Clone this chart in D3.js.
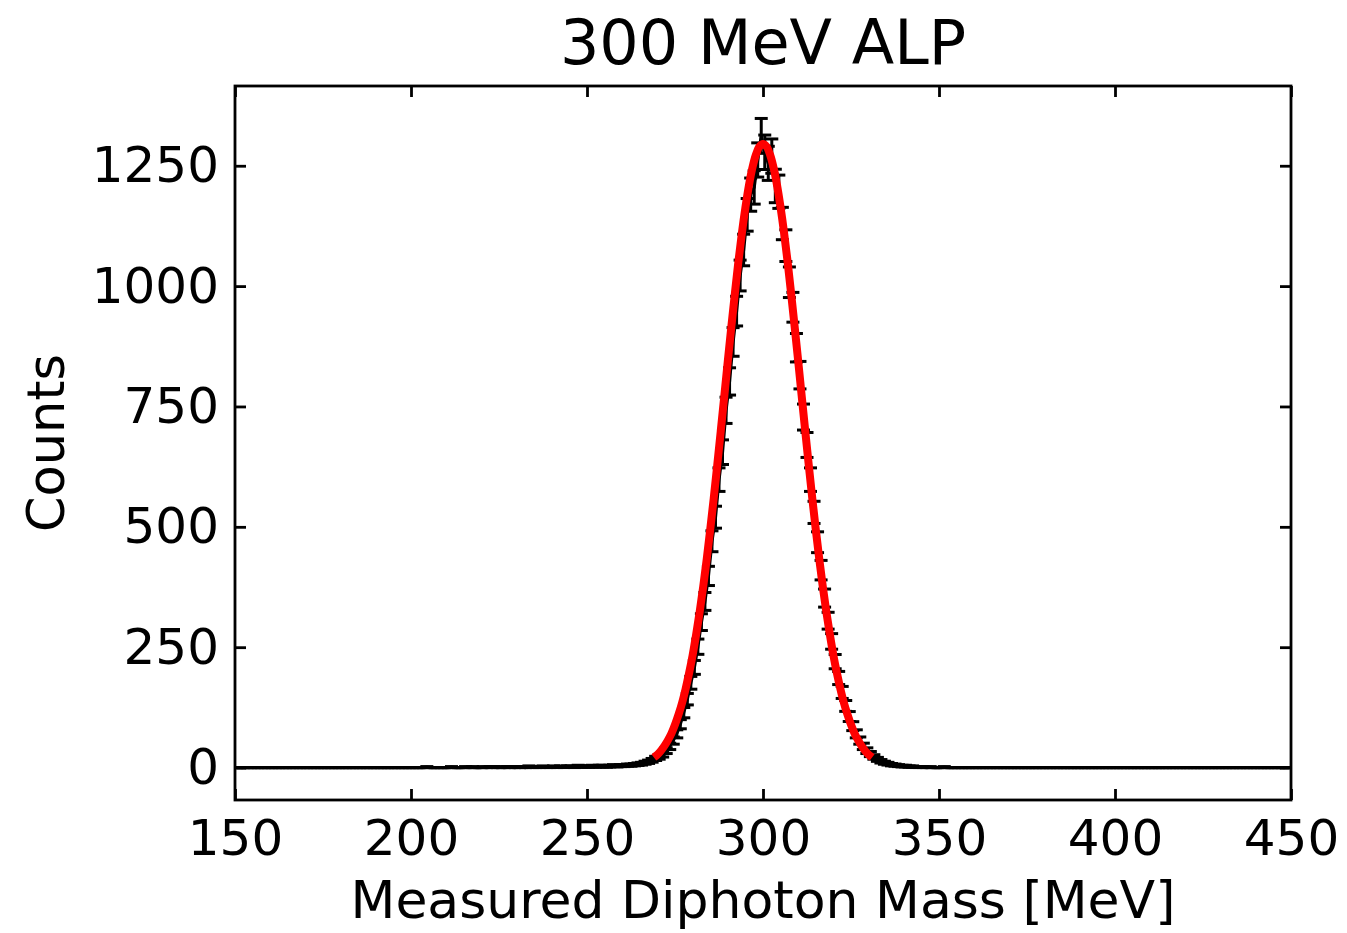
<!DOCTYPE html>
<html>
<head>
<meta charset="utf-8">
<script src="https://cdn.jsdelivr.net/npm/d3@7"></script>
<style>
  body { margin: 0; background: #fff; }
  text { font-family: 'DejaVu Sans', sans-serif; fill: #000; }
</style>
</head>
<body>
<svg id="chart" width="1347" height="933"></svg>
<script>
const title = '300 MeV ALP';
const xLabel = 'Measured Diphoton Mass [MeV]';
const yLabel = 'Counts';

const xTicks = [150, 200, 250, 300, 350, 400, 450];
const yTicks = [0, 250, 500, 750, 1000, 1250];

// histogram: 1 MeV bins from 150 to 450 MeV
const binStart = 150;
const binWidth = 1;
const counts = [
  0, 0, 0, 0, 0, 0, 0, 0, 0, 0,
  0, 0, 0, 0, 0, 0, 0, 0, 0, 0,
  0, 0, 0, 0, 0, 0, 0, 0, 0, 0,
  0, 0, 0, 0, 0, 0, 0, 0, 0, 0,
  0, 0, 0, 0, 0, 0, 0, 0, 0, 0,
  0, 0, 0, 0, 1, 0, 0, 0, 0, 0,
  0, 1, 0, 0, 0, 1, 0, 1, 0, 0,
  1, 0, 1, 1, 0, 1, 0, 1, 1, 0,
  1, 1, 0, 2, 1, 1, 1, 2, 1, 1,
  2, 1, 2, 1, 2, 2, 1, 3, 2, 2,
  2, 3, 2, 3, 3, 2, 3, 4, 3, 4,
  4, 5, 5, 6, 7, 8, 10, 12, 15, 19,
  22, 27, 35, 44, 56, 70, 90, 114, 142, 176,
  208, 251, 302, 345, 398, 470, 520, 598, 655, 742,
  802, 884, 948, 1022, 1075, 1148, 1190, 1205, 1262, 1312,
  1278, 1255, 1270, 1208, 1196, 1130, 1084, 1008, 956, 872,
  815, 728, 670, 598, 530, 468, 410, 352, 305, 262,
  220, 186, 156, 128, 106, 86, 70, 56, 44, 35,
  28, 22, 17, 13, 10, 8, 6, 5, 4, 3,
  3, 2, 2, 1, 1, 1, 0, 1, 0, 0,
  0, 1, 0, 0, 0, 0, 0, 0, 0, 0,
  0, 0, 0, 0, 0, 0, 0, 0, 0, 0,
  0, 0, 0, 0, 0, 0, 0, 0, 0, 0,
  0, 0, 0, 0, 0, 0, 0, 0, 0, 0,
  0, 0, 0, 0, 0, 0, 0, 0, 0, 0,
  0, 0, 0, 0, 0, 0, 0, 0, 0, 0,
  0, 0, 0, 0, 0, 0, 0, 0, 0, 0,
  0, 0, 0, 0, 0, 0, 0, 0, 0, 0,
  0, 0, 0, 0, 0, 0, 0, 0, 0, 0,
  0, 0, 0, 0, 0, 0, 0, 0, 0, 0
];

// fitted curve, read at 1 MeV steps from 269 to 331 MeV
const fitStart = 269;
const fitCounts = [
  21, 27, 35, 45, 57, 71, 89, 110, 134, 163,
  196, 233, 276, 323, 375, 432, 494, 559, 628, 699,
  771, 844, 915, 984, 1050, 1110, 1163, 1209, 1246, 1273,
  1290, 1295, 1290, 1273, 1246, 1209, 1163, 1110, 1050, 984,
  915, 844, 771, 699, 628, 559, 494, 432, 375, 323,
  276, 233, 196, 163, 134, 110, 89, 71, 57, 45,
  35, 27, 21
];

const svg = d3.select('#chart');
const width = +svg.attr('width');
const height = +svg.attr('height');

const margin = { top: 86, right: 56, bottom: 133, left: 235 };
const innerWidth = width - margin.left - margin.right;
const innerHeight = height - margin.top - margin.bottom;

const hist = counts.map((c, i) => ({
  x: binStart + binWidth * (i + 0.5),
  y: c,
  err: Math.sqrt(c)
}));
const fit = fitCounts.map((c, i) => ({ x: fitStart + i, y: c }));

svg.append('defs').append('clipPath')
  .attr('id', 'plot-clip')
  .append('rect')
    .attr('width', innerWidth)
    .attr('height', innerHeight);

const g = svg.append('g')
  .attr('transform', `translate(${margin.left}, ${margin.top})`);

const xScale = d3.scaleLinear()
  .domain([150, 450])
  .range([0, innerWidth]);

const yTop = d3.max(hist, d => d.y + d.err);
const yScale = d3.scaleLinear()
  .domain([-0.05 * yTop, 1.05 * yTop])
  .range([innerHeight, 0]);

const tickLen = 11;
const axisConfig = AxisG => {
  AxisG.selectAll('.domain').remove();
  AxisG.selectAll('line')
    .attr('stroke', '#000')
    .attr('stroke-width', 2.8);
  AxisG.selectAll('text')
    .attr('font-size', 50)
    .attr('font-family', 'DejaVu Sans');
};
const noLabels = AxisG => AxisG.selectAll('text').remove();

g.append('g')
  .attr('transform', `translate(0, ${innerHeight})`)
  .call(d3.axisBottom(xScale).tickValues(xTicks).tickSize(-tickLen).tickPadding(19))
  .call(axisConfig);

g.append('g')
  .call(d3.axisTop(xScale).tickValues(xTicks).tickSize(-tickLen))
  .call(axisConfig)
  .call(noLabels);

g.append('g')
  .call(d3.axisLeft(yScale).tickValues(yTicks).tickFormat(d3.format('d'))
    .tickSize(-tickLen).tickPadding(16))
  .call(axisConfig);

g.append('g')
  .attr('transform', `translate(${innerWidth}, 0)`)
  .call(d3.axisRight(yScale).tickValues(yTicks).tickSize(-tickLen))
  .call(axisConfig)
  .call(noLabels);

const plot = g.append('g').attr('clip-path', 'url(#plot-clip)');

// data: connecting line + error bars
const line = d3.line()
  .x(d => xScale(d.x))
  .y(d => yScale(d.y));

plot.append('path')
  .datum(hist)
  .attr('d', line)
  .attr('fill', 'none')
  .attr('stroke', '#000')
  .attr('stroke-width', 3.2);

const capHalf = 6.5;
const bars = plot.append('g').selectAll('g')
  .data(hist)
  .enter().append('g');

bars.append('line')
  .attr('x1', d => xScale(d.x))
  .attr('x2', d => xScale(d.x))
  .attr('y1', d => yScale(d.y - d.err))
  .attr('y2', d => yScale(d.y + d.err))
  .attr('stroke', '#000')
  .attr('stroke-width', 3);

bars.selectAll('.cap')
  .data(d => [
    { x: d.x, y: d.y - d.err },
    { x: d.x, y: d.y + d.err }
  ])
  .enter().append('line')
    .attr('class', 'cap')
    .attr('x1', d => xScale(d.x) - capHalf)
    .attr('x2', d => xScale(d.x) + capHalf)
    .attr('y1', d => yScale(d.y))
    .attr('y2', d => yScale(d.y))
    .attr('stroke', '#000')
    .attr('stroke-width', 3);

// fit curve
const fitLine = d3.line()
  .x(d => xScale(d.x))
  .y(d => yScale(d.y))
  .curve(d3.curveCatmullRom);

plot.append('path')
  .datum(fit)
  .attr('d', fitLine)
  .attr('fill', 'none')
  .attr('stroke', '#ff0000')
  .attr('stroke-width', 8)
  .attr('stroke-linejoin', 'round');

// frame
g.append('rect')
  .attr('width', innerWidth)
  .attr('height', innerHeight)
  .attr('fill', 'none')
  .attr('stroke', '#000')
  .attr('stroke-width', 2.8);

// labels
svg.append('text')
  .attr('x', margin.left + innerWidth / 2)
  .attr('y', 64)
  .attr('text-anchor', 'middle')
  .attr('font-size', 62)
  .text(title);

svg.append('text')
  .attr('x', margin.left + innerWidth / 2)
  .attr('y', 918)
  .attr('text-anchor', 'middle')
  .attr('font-size', 52)
  .text(xLabel);

svg.append('text')
  .attr('transform', `translate(64, ${margin.top + innerHeight / 2}) rotate(-90)`)
  .attr('text-anchor', 'middle')
  .attr('font-size', 51)
  .text(yLabel);
</script>
</body>
</html>
